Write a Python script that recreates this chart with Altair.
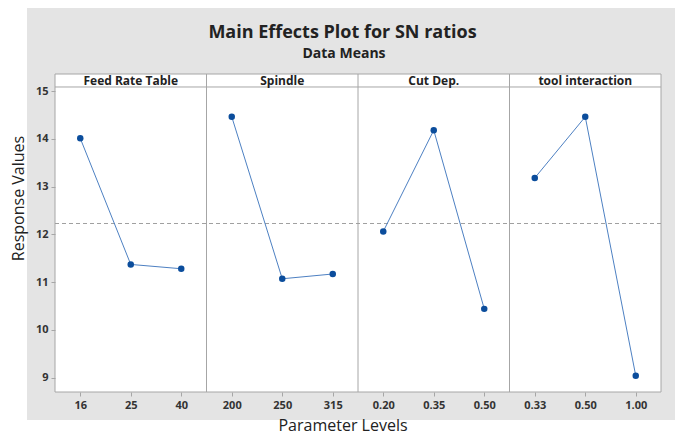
import altair as alt
import pandas as pd

# ---- data ----
factors = ["Feed Rate Table", "Spindle", "Cut Dep.", "tool interaction"]
levels = [
    ["16", "25", "40"],
    ["200", "250", "315"],
    ["0.20", "0.35", "0.50"],
    ["0.33", "0.50", "1.00"],
]
sn_means = [
    [14.01, 11.37, 11.28],
    [14.46, 11.07, 11.17],
    [12.06, 14.18, 10.44],
    [13.18, 14.46, 9.04],
]
y_ticks = [9, 10, 11, 12, 13, 14, 15]
main_title = "Main Effects Plot for SN ratios"
sub_title = "Data Means"

# ---- build tables ----
rows = []
pos = 0
for f, lv, vals in zip(factors, levels, sn_means):
    for l, v in zip(lv, vals):
        rows.append({"factor": f, "level": l, "value": v, "pos": pos})
        pos += 1
df = pd.DataFrame(rows)
n_pos = len(df)
all_labels = list(df["level"])

heads = df.groupby("factor", sort=False)["pos"].mean().reset_index()
bounds = []
acc = 0
for lv in levels[:-1]:
    acc += len(lv)
    bounds.append(acc - 0.5)
bounds_df = pd.DataFrame({"b": bounds})
one = pd.DataFrame({"k": [0]})
titles_df = pd.DataFrame({"t": [main_title], "s": [sub_title]})

# ---- layout ----
W, H = 606, 318
Y_DOM = [8.70, 15.356]
STRIP_Y = 15.084
X_DOM = [-0.5, n_pos - 0.5]
FONT = "Open Sans"
GRAY_BG = "#e4e4e4"
FRAME = "#a6a6a6"

xs = alt.Scale(domain=X_DOM, nice=False, zero=False)
ys = alt.Scale(domain=Y_DOM, nice=False, zero=False)

label_expr = "[" + ",".join("'%s'" % s for s in all_labels) + "][datum.value]"

x_axis = alt.Axis(
    values=list(range(n_pos)), labelExpr=label_expr, grid=False, domain=False,
    tickSize=4, tickColor=FRAME, labelFont=FONT, labelFontSize=11,
    labelFontWeight="bold", labelColor="#333333", labelPadding=3,
    title="Parameter Levels", titleFont=FONT, titleFontSize=16,
    titleFontWeight="normal", titleColor="#222222",
    titleX=287.5, titleY=33, titleAnchor="middle", titleAlign="center",
    titleBaseline="middle", zindex=1,
)
y_axis = alt.Axis(
    values=y_ticks, grid=False, domain=False, tickSize=4, tickColor=FRAME,
    labelFont=FONT, labelFontSize=11, labelFontWeight="bold",
    labelColor="#333333", labelPadding=3,
    title="Response Values", titleFont=FONT, titleFontSize=16,
    titleFontWeight="normal", titleColor="#222222",
    titleX=-37, titleY=124, titleAngle=270, titleAlign="center",
    titleBaseline="middle", zindex=1,
)

# decorative background box and white plot area
bg = alt.Chart(one).mark_rect(fill=GRAY_BG, stroke=None).encode(
    x=alt.value(-28), x2=alt.value(626), y=alt.value(-69), y2=alt.value(346)
)
plot_bg = alt.Chart(one).mark_rect(fill="white", stroke=FRAME, strokeWidth=1).encode(
    x=alt.value(0), x2=alt.value(W), y=alt.value(0), y2=alt.value(H)
)

dividers = alt.Chart(bounds_df).mark_rule(color=FRAME, strokeWidth=1).encode(
    x=alt.X("b:Q", scale=xs, axis=x_axis)
)
strip_line = alt.Chart(one).mark_rule(color=FRAME, strokeWidth=1).encode(
    y=alt.datum(STRIP_Y, scale=ys)
)
mean_line = alt.Chart(df).mark_rule(color="#a0a0a0", strokeDash=[4, 3], strokeWidth=1).encode(
    y=alt.Y("mean(value):Q", scale=ys)
)
lines = alt.Chart(df).mark_line(color="#4d80c2", strokeWidth=1).encode(
    x=alt.X("pos:Q", scale=xs, axis=x_axis),
    y=alt.Y("value:Q", scale=ys, axis=y_axis),
    detail="factor:N",
    order="pos:Q",
)
points = alt.Chart(df).mark_circle(color="#0b4d9c", opacity=1, size=42).encode(
    x=alt.X("pos:Q", scale=xs, axis=x_axis),
    y=alt.Y("value:Q", scale=ys, axis=y_axis),
)
head_text = alt.Chart(heads).mark_text(
    font=FONT, fontSize=12, fontWeight="bold", color="#222222", baseline="middle"
).encode(
    x=alt.X("pos:Q", scale=xs, axis=x_axis),
    y=alt.value(6.5),
    text="factor:N",
)
title_text = alt.Chart(titles_df).mark_text(
    font=FONT, fontSize=18, fontWeight="bold", color="#222222", baseline="middle"
).encode(x=alt.value(287.5), y=alt.value(-41), text="t:N")
sub_text = alt.Chart(titles_df).mark_text(
    font=FONT, fontSize=14, fontWeight="bold", color="#222222", baseline="middle"
).encode(x=alt.value(289), y=alt.value(-20), text="s:N")

chart = alt.layer(
    bg, plot_bg, dividers, strip_line, mean_line, lines, points, head_text,
    title_text, sub_text
).properties(
    width=W, height=H,
    autosize=alt.AutoSizeParams(type="none"),
    padding={"left": 47, "top": 66, "right": 14, "bottom": 43},
).configure_view(stroke=None).configure(background="white")

chart.save("out.html", embed_options={"renderer": "svg", "actions": False})
